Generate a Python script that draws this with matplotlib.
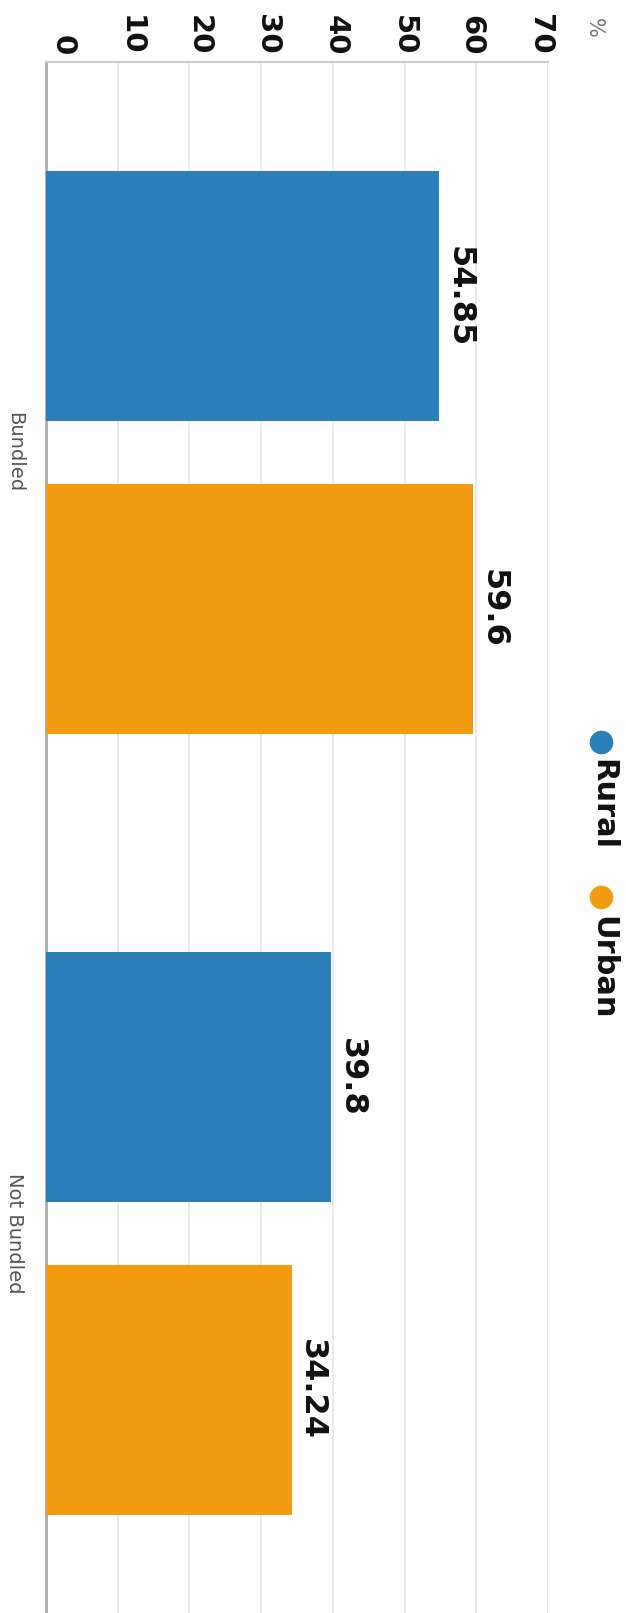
import matplotlib
matplotlib.use("Agg")
import matplotlib.pyplot as plt
import matplotlib.transforms as mtransforms
import numpy as np

# survey shares (%) by bundling status
categories = ["Bundled", "Not Bundled"]
series_names = ["Rural", "Urban"]
rural = [54.85, 39.8]
urban = [59.6, 34.24]
x_ticks = [0, 10, 20, 30, 40, 50, 60, 70]

colors = {"Rural": "#2a7fb8", "Urban": "#f39c12"}

W, H = 626, 1613
fig = plt.figure(figsize=(W / 100, H / 100), dpi=100)

# the chart is laid out turned a quarter turn clockwise
left, right, top = 46, 548, 62
band = 781
ax = fig.add_axes([left / W, 1 - (top + 2 * band) / H, (right - left) / W, 2 * band / H])

pos = np.arange(len(categories))
offset = 0.2
bar_h = 0.32
for vals, name, sign in [(rural, "Rural", -1), (urban, "Urban", 1)]:
    bars = ax.barh(pos + sign * offset, vals, height=bar_h, color=colors[name], zorder=3)
    for b, v in zip(bars, vals):
        ax.annotate(f"{v:g}", (v, b.get_y() + b.get_height() / 2),
                    xytext=(3, 0), textcoords="offset points",
                    rotation=-90, ha="left", va="center",
                    fontsize=23, fontweight="bold", color="#111111")

ax.set_xlim(0, 70)
ax.set_ylim(1.5, -0.5)
ax.xaxis.tick_top()
ax.set_xticks(x_ticks)
ax.set_xticklabels([str(t) for t in x_ticks], rotation=-90, fontsize=21,
                   fontweight="bold", color="#111111")
ax.tick_params(axis="x", length=0, pad=5)
# value labels sit on a slightly tighter spacing than the grid
for t, lab in zip(x_ticks, ax.get_xticklabels()):
    shift = (17 - 0.36 * t) / 100
    lab.set_transform(lab.get_transform() +
                      mtransforms.ScaledTranslation(shift, 0, fig.dpi_scale_trans))
ax.set_yticks(pos)
ax.set_yticklabels(categories, rotation=-90, fontsize=14, color="#555555",
                   va="center")
ax.tick_params(axis="y", length=0, pad=16)

ax.grid(axis="x", color="#e6e6e6", linewidth=1.2, zorder=0)
for side in ["right", "bottom"]:
    ax.spines[side].set_visible(False)
ax.spines["top"].set_color("#cccccc")
ax.spines["top"].set_linewidth(1.5)
ax.spines["left"].set_color("#aaaaaa")
ax.spines["left"].set_linewidth(2)

# unit label
fig.text(594 / W, 1 - 18 / H, "%", rotation=-90, ha="center", va="top",
         fontsize=15, color="#777777")

# legend, drawn in figure space
legend_items = [("Rural", 742, 759), ("Urban", 897, 916)]
for name, dot_y, text_y in legend_items:
    fig.lines.append(plt.Line2D([601 / W], [1 - dot_y / H], marker="o",
                                markersize=16, color=colors[name],
                                transform=fig.transFigure))
    fig.text(603 / W, 1 - text_y / H, name, rotation=-90, ha="center", va="top",
             fontsize=22, fontweight="bold", color="#111111")

fig.savefig("out.png", dpi=100)
